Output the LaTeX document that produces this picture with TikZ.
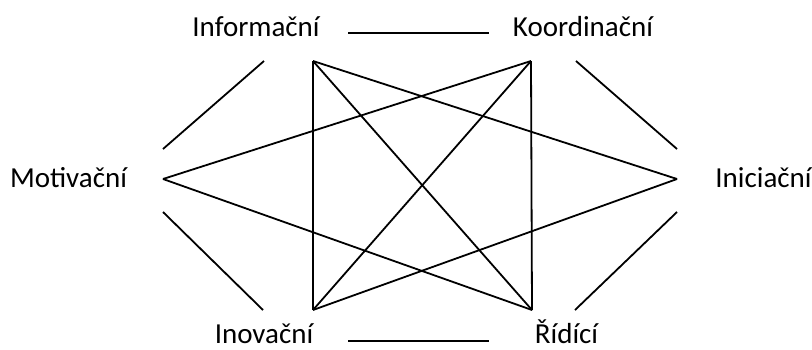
\documentclass[tikz,border=0pt]{standalone}
\usepackage{fontspec}
\setmainfont{Carlito}
\begin{document}
\begin{tikzpicture}[x=1pt,y=-1pt,
  lbl/.style={font=\fontsize{29}{34}\selectfont, anchor=base, inner sep=0pt},
  conn/.style={line width=1.8pt}]
\useasboundingbox (0,0) rectangle (812,349);
% labels
\node[lbl] (inf) at (256,36) {Informační};
\node[lbl] (koo) at (583,36) {Koordinační};
\node[lbl] (mot) at (68.5,187) {Motivační};
\node[lbl] (ini) at (763.5,187) {Iniciační};
\node[lbl] (ino) at (264,343) {Inovační};
\node[lbl] (rid) at (566.5,343) {Řídící};
% hub points
\coordinate (hA) at (313,61);
\coordinate (hB) at (531,61);
\coordinate (hM) at (163,179);
\coordinate (hI) at (677,179);
\coordinate (hN) at (313,310);
\coordinate (hR) at (532,310);
% loose segment ends
\coordinate (t1) at (348,33);  \coordinate (t2) at (489,33);
\coordinate (b1) at (348,341); \coordinate (b2) at (489,341);
\coordinate (ul1) at (163,149); \coordinate (ul2) at (264,61);
\coordinate (ll1) at (163,212); \coordinate (ll2) at (263,310);
\coordinate (ur1) at (576,61);  \coordinate (ur2) at (677,149);
\coordinate (lr1) at (575,310); \coordinate (lr2) at (677,212);
% connectors
\draw[conn] (t1) -- (t2);
\draw[conn] (b1) -- (b2);
\draw[conn] (ul1) -- (ul2);
\draw[conn] (ll1) -- (ll2);
\draw[conn] (ur1) -- (ur2);
\draw[conn] (lr1) -- (lr2);
\draw[conn] (hA) -- (hN);
\draw[conn] (hB) -- (hR);
\draw[conn] (hA) -- (hR);
\draw[conn] (hB) -- (hN);
\draw[conn] (hA) -- (hI);
\draw[conn] (hB) -- (hM);
\draw[conn] (hM) -- (hR);
\draw[conn] (hN) -- (hI);
\end{tikzpicture}
\end{document}
